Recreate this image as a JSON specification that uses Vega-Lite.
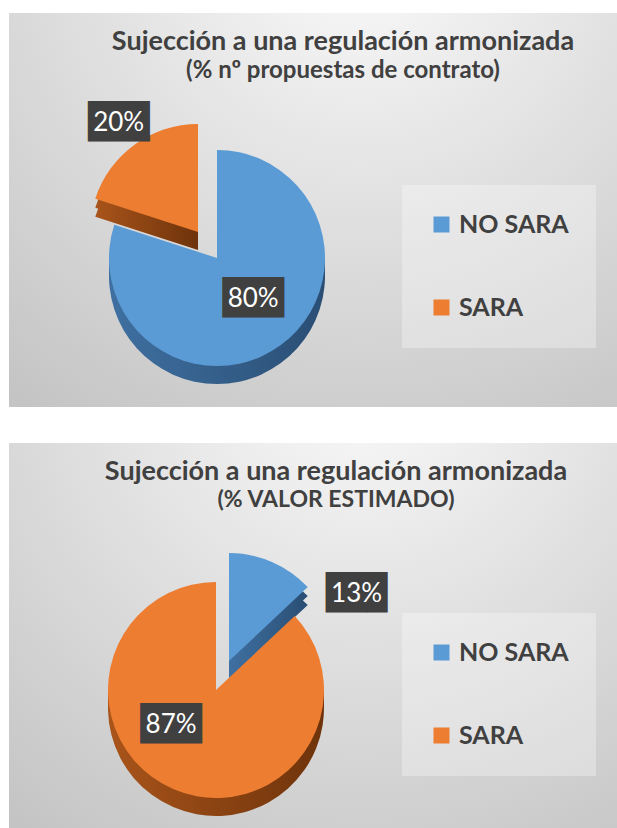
{
  "$schema": "https://vega.github.io/schema/vega-lite/v6.json",
  "bounds": "flush",
  "padding": {"left": 9, "top": 13, "right": 0, "bottom": 0},
  "background": "white",
  "spacing": 36,
  "datasets": {
    "contratos": [{"cat": "NO SARA", "valor": 0.80}, {"cat": "SARA", "valor": 0.20}],
    "estimado": [{"cat": "NO SARA", "valor": 0.13}, {"cat": "SARA", "valor": 0.87}],
    "fondo": [{"panel": "fondo"}]
  },
  "vconcat": [
    {
      "width": 608,
      "height": 394,
      "title": {"text": "Sujección a una regulación armonizada", "subtitle": "(% nº propuestas de contrato)", "subtitleFontSize": 24, "dx": 30, "offset": -71},
      "data": {"name": "contratos"},
      "layer": [
        {"data": {"name": "fondo"}, "mark": {"type": "rect", "fill": {"gradient": "radial", "x1": 0.58, "y1": 0.05, "r1": 0, "x2": 0.58, "y2": 0.05, "r2": 0.95, "stops": [{"offset": 0, "color": "#fbfbfb"}, {"offset": 0.45, "color": "#e2e2e2"}, {"offset": 1, "color": "#c4c4c4"}]}}, "encoding": {}},
        {"mark": {"type": "arc", "outerRadius": 108, "x": 208, "y": 245, "xOffset": -19, "yOffset": -8, "fill": {"gradient": "linear", "x1": 0, "y1": 0, "x2": 1, "y2": 0, "stops": [{"offset": 0, "color": "#A9541A"}, {"offset": 1, "color": "#6E330B"}]}},
         "encoding": {"theta": {"field": "valor", "type": "quantitative", "stack": true, "scale": {"domain": [0, 1]}}, "order": {"field": "cat", "type": "nominal"}, "opacity": {"condition": {"test": "datum.cat === 'SARA'", "value": 1}, "value": 0}}},
        {"mark": {"type": "arc", "outerRadius": 108, "x": 208, "y": 245, "xOffset": -19, "yOffset": -17, "fill": {"gradient": "linear", "x1": 0, "y1": 0, "x2": 1, "y2": 0, "stops": [{"offset": 0, "color": "#A9541A"}, {"offset": 1, "color": "#6E330B"}]}},
         "encoding": {"theta": {"field": "valor", "type": "quantitative", "stack": true, "scale": {"domain": [0, 1]}}, "order": {"field": "cat", "type": "nominal"}, "opacity": {"condition": {"test": "datum.cat === 'SARA'", "value": 1}, "value": 0}}},
        {"mark": {"type": "arc", "outerRadius": 108, "x": 208, "y": 245, "xOffset": -19, "yOffset": -26},
         "encoding": {"theta": {"field": "valor", "type": "quantitative", "stack": true, "scale": {"domain": [0, 1]}}, "order": {"field": "cat", "type": "nominal"}, "color": {"field": "cat", "type": "nominal", "scale": {"domain": ["NO SARA", "SARA"], "range": ["#5B9BD5", "#ED7D31"]}, "legend": {"legendX": 393, "legendY": 172}}, "opacity": {"condition": {"test": "datum.cat === 'SARA'", "value": 1}, "value": 0}}},
        {"mark": {"type": "arc", "outerRadius": 108, "x": 208, "y": 245, "yOffset": 18, "fill": {"gradient": "linear", "x1": 0, "y1": 0, "x2": 1, "y2": 0, "stops": [{"offset": 0, "color": "#3F70A1"}, {"offset": 1, "color": "#2A4E74"}]}},
         "encoding": {"theta": {"field": "valor", "type": "quantitative", "stack": true, "scale": {"domain": [0, 1]}}, "order": {"field": "cat", "type": "nominal"}, "opacity": {"condition": {"test": "datum.cat === 'NO SARA'", "value": 1}, "value": 0}}},
        {"mark": {"type": "arc", "outerRadius": 108, "x": 208, "y": 245, "yOffset": 9, "fill": {"gradient": "linear", "x1": 0, "y1": 0, "x2": 1, "y2": 0, "stops": [{"offset": 0, "color": "#3F70A1"}, {"offset": 1, "color": "#2A4E74"}]}},
         "encoding": {"theta": {"field": "valor", "type": "quantitative", "stack": true, "scale": {"domain": [0, 1]}}, "order": {"field": "cat", "type": "nominal"}, "opacity": {"condition": {"test": "datum.cat === 'NO SARA'", "value": 1}, "value": 0}}},
        {"mark": {"type": "arc", "outerRadius": 108, "x": 208, "y": 245},
         "encoding": {"theta": {"field": "valor", "type": "quantitative", "stack": true, "scale": {"domain": [0, 1]}}, "order": {"field": "cat", "type": "nominal"}, "color": {"field": "cat", "type": "nominal"}, "opacity": {"condition": {"test": "datum.cat === 'NO SARA'", "value": 1}, "value": 0}}},
        {"mark": {"type": "text", "text": "███", "font": "DejaVu Sans Mono", "fontSize": 34, "color": "#404040", "x": 208, "y": 245, "radius": 55, "thetaOffset": -0.09, "baseline": "middle", "align": "center"},
         "encoding": {"theta": {"field": "valor", "type": "quantitative", "stack": true, "scale": {"domain": [0, 1]}}, "order": {"field": "cat", "type": "nominal"}, "opacity": {"condition": {"test": "datum.cat === 'NO SARA'", "value": 1}, "value": 0}}},
        {"mark": {"type": "text", "font": "Lato", "fontSize": 26, "color": "white", "x": 208, "y": 245, "radius": 55, "thetaOffset": -0.09, "baseline": "middle", "align": "center"},
         "encoding": {"theta": {"field": "valor", "type": "quantitative", "stack": true, "scale": {"domain": [0, 1]}}, "order": {"field": "cat", "type": "nominal"}, "text": {"field": "valor", "type": "quantitative", "format": ".0%"}, "opacity": {"condition": {"test": "datum.cat === 'NO SARA'", "value": 1}, "value": 0}}},
        {"mark": {"type": "text", "text": "███", "font": "DejaVu Sans Mono", "fontSize": 34, "color": "#404040", "x": 208, "y": 245, "xOffset": -19, "yOffset": -26, "radius": 135, "baseline": "middle", "align": "center"},
         "encoding": {"theta": {"field": "valor", "type": "quantitative", "stack": true, "scale": {"domain": [0, 1]}}, "order": {"field": "cat", "type": "nominal"}, "opacity": {"condition": {"test": "datum.cat === 'SARA'", "value": 1}, "value": 0}}},
        {"mark": {"type": "text", "font": "Lato", "fontSize": 26, "color": "white", "x": 208, "y": 245, "xOffset": -19, "yOffset": -26, "radius": 135, "baseline": "middle", "align": "center"},
         "encoding": {"theta": {"field": "valor", "type": "quantitative", "stack": true, "scale": {"domain": [0, 1]}}, "order": {"field": "cat", "type": "nominal"}, "text": {"field": "valor", "type": "quantitative", "format": ".0%"}, "opacity": {"condition": {"test": "datum.cat === 'SARA'", "value": 1}, "value": 0}}}
      ]
    },
    {
      "width": 608,
      "height": 385,
      "title": {"text": "Sujección a una regulación armonizada", "subtitle": "(% VALOR ESTIMADO)", "dx": 23, "offset": -70},
      "data": {"name": "estimado"},
      "layer": [
        {"data": {"name": "fondo"}, "mark": {"type": "rect", "fill": {"gradient": "radial", "x1": 0.58, "y1": 0.05, "r1": 0, "x2": 0.58, "y2": 0.05, "r2": 0.95, "stops": [{"offset": 0, "color": "#fbfbfb"}, {"offset": 0.45, "color": "#e2e2e2"}, {"offset": 1, "color": "#c4c4c4"}]}}, "encoding": {}},
        {"mark": {"type": "arc", "outerRadius": 108, "x": 207, "y": 247, "xOffset": 13, "yOffset": -11, "fill": {"gradient": "linear", "x1": 0, "y1": 0, "x2": 1, "y2": 0, "stops": [{"offset": 0, "color": "#3F70A1"}, {"offset": 1, "color": "#2A4E74"}]}},
         "encoding": {"theta": {"field": "valor", "type": "quantitative", "stack": true, "scale": {"domain": [0, 1]}}, "order": {"field": "cat", "type": "nominal"}, "opacity": {"condition": {"test": "datum.cat === 'NO SARA'", "value": 1}, "value": 0}}},
        {"mark": {"type": "arc", "outerRadius": 108, "x": 207, "y": 247, "xOffset": 13, "yOffset": -20, "fill": {"gradient": "linear", "x1": 0, "y1": 0, "x2": 1, "y2": 0, "stops": [{"offset": 0, "color": "#3F70A1"}, {"offset": 1, "color": "#2A4E74"}]}},
         "encoding": {"theta": {"field": "valor", "type": "quantitative", "stack": true, "scale": {"domain": [0, 1]}}, "order": {"field": "cat", "type": "nominal"}, "opacity": {"condition": {"test": "datum.cat === 'NO SARA'", "value": 1}, "value": 0}}},
        {"mark": {"type": "arc", "outerRadius": 108, "x": 207, "y": 247, "xOffset": 13, "yOffset": -29},
         "encoding": {"theta": {"field": "valor", "type": "quantitative", "stack": true, "scale": {"domain": [0, 1]}}, "order": {"field": "cat", "type": "nominal"}, "color": {"field": "cat", "type": "nominal", "scale": {"domain": ["NO SARA", "SARA"], "range": ["#5B9BD5", "#ED7D31"]}, "legend": {"legendX": 393, "legendY": 170}}, "opacity": {"condition": {"test": "datum.cat === 'NO SARA'", "value": 1}, "value": 0}}},
        {"mark": {"type": "arc", "outerRadius": 108, "x": 207, "y": 247, "yOffset": 18, "fill": {"gradient": "linear", "x1": 0, "y1": 0, "x2": 1, "y2": 0, "stops": [{"offset": 0, "color": "#A9541A"}, {"offset": 1, "color": "#6E330B"}]}},
         "encoding": {"theta": {"field": "valor", "type": "quantitative", "stack": true, "scale": {"domain": [0, 1]}}, "order": {"field": "cat", "type": "nominal"}, "opacity": {"condition": {"test": "datum.cat === 'SARA'", "value": 1}, "value": 0}}},
        {"mark": {"type": "arc", "outerRadius": 108, "x": 207, "y": 247, "yOffset": 9, "fill": {"gradient": "linear", "x1": 0, "y1": 0, "x2": 1, "y2": 0, "stops": [{"offset": 0, "color": "#A9541A"}, {"offset": 1, "color": "#6E330B"}]}},
         "encoding": {"theta": {"field": "valor", "type": "quantitative", "stack": true, "scale": {"domain": [0, 1]}}, "order": {"field": "cat", "type": "nominal"}, "opacity": {"condition": {"test": "datum.cat === 'SARA'", "value": 1}, "value": 0}}},
        {"mark": {"type": "arc", "outerRadius": 108, "x": 207, "y": 247},
         "encoding": {"theta": {"field": "valor", "type": "quantitative", "stack": true, "scale": {"domain": [0, 1]}}, "order": {"field": "cat", "type": "nominal"}, "color": {"field": "cat", "type": "nominal"}, "opacity": {"condition": {"test": "datum.cat === 'SARA'", "value": 1}, "value": 0}}},
        {"mark": {"type": "text", "text": "███", "font": "DejaVu Sans Mono", "fontSize": 34, "color": "#404040", "x": 207, "y": 247, "radius": 57, "thetaOffset": 0.5, "baseline": "middle", "align": "center"},
         "encoding": {"theta": {"field": "valor", "type": "quantitative", "stack": true, "scale": {"domain": [0, 1]}}, "order": {"field": "cat", "type": "nominal"}, "opacity": {"condition": {"test": "datum.cat === 'SARA'", "value": 1}, "value": 0}}},
        {"mark": {"type": "text", "font": "Lato", "fontSize": 26, "color": "white", "x": 207, "y": 247, "radius": 57, "thetaOffset": 0.5, "baseline": "middle", "align": "center"},
         "encoding": {"theta": {"field": "valor", "type": "quantitative", "stack": true, "scale": {"domain": [0, 1]}}, "order": {"field": "cat", "type": "nominal"}, "text": {"field": "valor", "type": "quantitative", "format": ".0%"}, "opacity": {"condition": {"test": "datum.cat === 'SARA'", "value": 1}, "value": 0}}},
        {"mark": {"type": "text", "text": "███", "font": "DejaVu Sans Mono", "fontSize": 34, "color": "#404040", "x": 207, "y": 247, "xOffset": 13, "yOffset": -29, "radius": 144, "thetaOffset": 0.68, "baseline": "middle", "align": "center"},
         "encoding": {"theta": {"field": "valor", "type": "quantitative", "stack": true, "scale": {"domain": [0, 1]}}, "order": {"field": "cat", "type": "nominal"}, "opacity": {"condition": {"test": "datum.cat === 'NO SARA'", "value": 1}, "value": 0}}},
        {"mark": {"type": "text", "font": "Lato", "fontSize": 26, "color": "white", "x": 207, "y": 247, "xOffset": 13, "yOffset": -29, "radius": 144, "thetaOffset": 0.68, "baseline": "middle", "align": "center"},
         "encoding": {"theta": {"field": "valor", "type": "quantitative", "stack": true, "scale": {"domain": [0, 1]}}, "order": {"field": "cat", "type": "nominal"}, "text": {"field": "valor", "type": "quantitative", "format": ".0%"}, "opacity": {"condition": {"test": "datum.cat === 'NO SARA'", "value": 1}, "value": 0}}}
      ]
    }
  ],
  "resolve": {"scale": {"color": "independent", "theta": "independent"}, "legend": {"color": "independent"}},
  "config": {
    "view": {"stroke": null},
    "title": {"anchor": "middle", "font": "Lato", "fontSize": 27, "fontWeight": "bold", "color": "#404040", "subtitleFont": "Lato", "subtitleFontSize": 23, "subtitleFontWeight": "bold", "subtitleColor": "#404040", "subtitlePadding": 3},
    "legend": {"orient": "none", "title": null, "direction": "vertical", "symbolType": "square", "symbolSize": 256, "symbolStrokeWidth": 0, "labelFont": "Lato", "labelFontSize": 25, "labelFontWeight": "bold", "labelColor": "#404040", "rowPadding": 57, "padding": 27, "fillColor": "rgba(255,255,255,0.3)", "labelOffset": 5}
  }
}
